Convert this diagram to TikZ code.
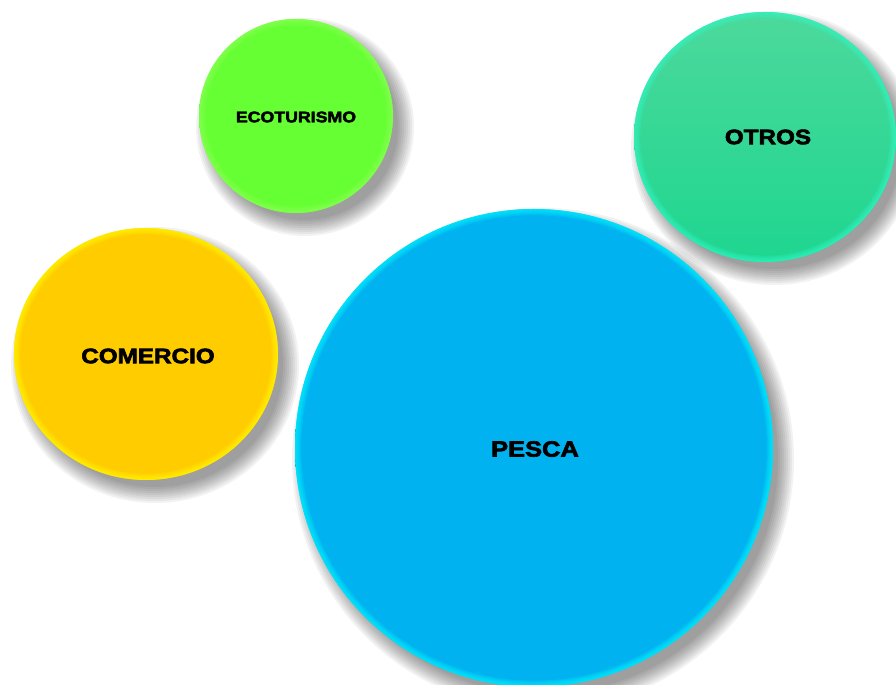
\documentclass[tikz,border=0pt]{standalone}
\usepackage{fontspec}
\setmainfont{Liberation Sans}[BoldFeatures={FakeStretch=1.16,FakeBold=3}]
\definecolor{ecotop}{RGB}{102,255,51}
\definecolor{ecobot}{RGB}{102,255,51}
\definecolor{ecorim}{RGB}{140,255,90}
\definecolor{otrtop}{RGB}{76,217,156}
\definecolor{otrbot}{RGB}{30,214,144}
\definecolor{otrrim}{RGB}{50,250,200}
\definecolor{comtop}{RGB}{255,204,0}
\definecolor{combot}{RGB}{255,204,0}
\definecolor{comrim}{RGB}{255,252,0}
\definecolor{pestop}{RGB}{0,178,240}
\definecolor{pesbot}{RGB}{0,178,240}
\definecolor{pesrim}{RGB}{0,250,255}
\tikzstyle{lbl}=[text=black,inner sep=0pt]

\begin{document}
\begin{tikzpicture}[x=0.02cm,y=-0.02cm]
\useasboundingbox (0,0) rectangle (896,685);
\clip (0,0) rectangle (896,685);
% sombras
\foreach \x/\y/\rx/\ry in {296/116/97/97, 765/137/131/125, 146/354/132/126, 534/448/239/239}
  \foreach \k in {0,...,8}
    \fill[black,opacity=.05] (\x+9,\y+11) ellipse ({\rx+12-2*\k} and {\ry+12-2*\k});
% burbujas con borde claro
\foreach \x/\y/\rx/\ry/\ct/\cb/\crim in {296/116/97/97/ecotop/ecobot/ecorim,
    765/137/131/125/otrtop/otrbot/otrrim, 146/354/132/126/comtop/combot/comrim,
    534/448/239/239/pestop/pesbot/pesrim}
{
  \shade[top color=\ct,bottom color=\cb] (\x,\y) ellipse ({\rx} and {\ry});
  \foreach \k in {1,...,6}
    \draw[\crim,opacity=.16,line width=\k*0.6pt] (\x,\y) ellipse ({\rx-0.53*\k} and {\ry-0.53*\k});
}
% textos
\node[lbl,font=\fontsize{8.7}{10}\selectfont\bfseries] (eco) at (296,117) {ECOTURISMO};
\node[lbl,font=\fontsize{11.9}{14}\selectfont\bfseries] (otros) at (768,137) {OTROS};
\node[lbl,font=\fontsize{11.9}{14}\selectfont\bfseries] (com) at (148,356) {COMERCIO};
\node[lbl,font=\fontsize{12.5}{15}\selectfont\bfseries] (pesca) at (535,449) {PESCA};
\end{tikzpicture}
\end{document}
